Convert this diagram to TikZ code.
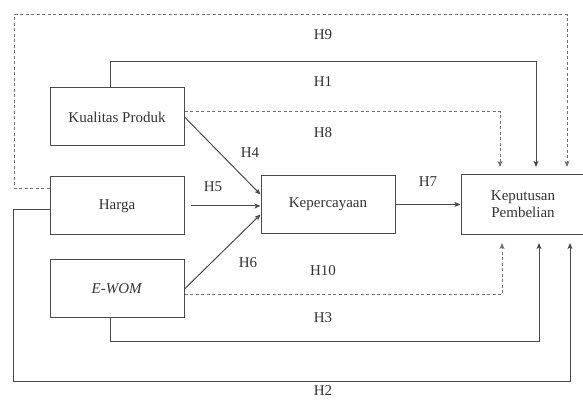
\documentclass[tikz,border=0pt]{standalone}
\usepackage{fontspec}
\setmainfont{Liberation Serif}
\usetikzlibrary{arrows.meta,positioning}
\definecolor{cLine}{HTML}{4A4A4A}
\definecolor{cDash}{HTML}{707070}
\definecolor{cText}{HTML}{333333}
\tikzset{
  var/.style={draw=cLine, line width=1pt, align=center, text=cText,
    font=\fontsize{15}{17}\selectfont, minimum width=134pt, minimum height=58pt, inner sep=2pt},
  path/.style={-{Stealth[length=6pt, width=5pt, inset=1.5pt]}, draw=cLine, line width=1pt},
  med/.style={path, draw=cDash, dash pattern=on 3pt off 2.5pt},
  lbl/.style={font=\fontsize{15}{17}\selectfont, text=cText, inner sep=0pt},
}
\begin{document}
\begin{tikzpicture}[node distance=30pt and 76pt]
    \useasboundingbox (0,0) rectangle (583pt,401pt);
    \node[var] (kual) at (117pt,284pt) {Kualitas Produk};
    \node[var, below=30pt of kual] (harga) {Harga};
    \node[var, below=24pt of harga] (ewom) {\textit{E-WOM}};
    \node[var, right=76pt of harga, yshift=1.5pt] (kep) {Kepercayaan};
    \node[var, right=65pt of kep, minimum width=124pt, minimum height=60pt] (keput) {Keputusan\\Pembelian};
    % direct paths to the decision
    \draw[path, shorten >=7pt] ([xshift=-7pt]kual.north) -- ++(0,26pt) -| ([xshift=13pt]keput.north);
    \draw[path, shorten >=8pt] ([yshift=-4pt]harga.west) -- ++(-36pt,0) -- ++(0,-172pt) -| ([xshift=47pt]keput.south);
    \draw[path, shorten >=8pt] ([xshift=-7pt]ewom.south) -- ++(0,-23pt) -| ([xshift=16pt]keput.south);
    % paths to trust
    \draw[path] (kual.east) -- ([yshift=10pt]kep.west);
    \draw[path, shorten <=6pt] (harga.east) -- (harga.east -| kep.west);
    \draw[path] (ewom.east) -- ([yshift=-10pt]kep.west);
    \draw[path] (kep.east) -- (kep.east -| keput.west);
    % mediated paths
    \draw[med, shorten >=7pt] ([yshift=17pt]harga.west) -- ++(-35pt,0) -- ++(0,174pt) -| ([xshift=44pt]keput.north);
    \draw[med, shorten >=7pt] ([yshift=5pt]kual.east) -| ([xshift=-23pt]keput.north);
    \draw[med, shorten >=8pt] ([yshift=-6pt]ewom.east) -| ([xshift=-21pt]keput.south);
    % hypothesis labels
    \node[lbl] (h9) at (323pt,366pt) {H9};
    \node[lbl] (h1) at (323pt,319pt) {H1};
    \node[lbl] (h8) at (323pt,268pt) {H8};
    \node[lbl] (h4) at (250pt,248pt) {H4};
    \node[lbl] (h5) at (213pt,214pt) {H5};
    \node[lbl] (h7) at (428pt,219pt) {H7};
    \node[lbl] (h6) at (248pt,138pt) {H6};
    \node[lbl] (h10) at (323pt,130pt) {H10};
    \node[lbl] (h3) at (323pt,83pt) {H3};
    \node[lbl] (h2) at (323pt,10pt) {H2};
\end{tikzpicture}
\end{document}
